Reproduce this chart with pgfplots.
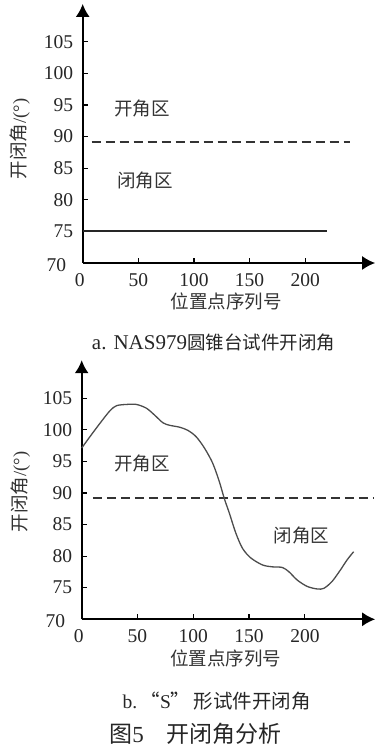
\documentclass[border=0pt]{standalone}
\usepackage{pgfplots}
\pgfplotsset{compat=1.18}
\usepackage{fontspec}
\setmainfont{Liberation Serif}
\newfontfamily\cjk{Noto Sans CJK SC}
\usetikzlibrary{arrows.meta}

\tikzset{zone/.style={font=\cjk\fontsize{18.5}{20}\selectfont, text=black!80}}
\pgfplotsset{
 myaxis/.style={
  scale only axis, anchor=south west,
  xmin=0, xmax=263, ymin=70, ymax=111,
  axis x line=bottom, axis y line=left,
  axis line style={line width=1.8pt, -{Latex[length=13pt,width=14pt]}},
  xtick={50,100,150,200}, ytick={75,80,...,105},
  extra x ticks={0}, extra y ticks={70},
  extra x tick style={xticklabel style={xshift=-3pt}, major tick length=0pt},
  extra y tick style={yticklabel style={xshift=-7pt,yshift=-2pt}, major tick length=0pt},
  tick align=inside, major tick length=5pt, tick style={line width=1.2pt, black},
  tick label style={font=\fontsize{19.5}{20}\selectfont, text=black!85},
  /pgf/number format/assume math mode=true,
  xticklabel style={inner sep=0pt, anchor=north, yshift=-10pt},
  yticklabel style={inner sep=0pt, anchor=east, xshift=-9.4pt},
  label style={font=\fontsize{18.5}{20}\selectfont, text=black!80},
  ylabel={{\cjk 开闭角}/(°)},
  xlabel={\cjk 位置点序列号},
  clip=false,
 },
}

\begin{document}
\begin{tikzpicture}
\path[use as bounding box] (0,0) rectangle (376pt,753pt);

% ---------- a ----------
\begin{axis}[myaxis, at={(82.7pt,490pt)}, width=292.5pt, height=259.1pt,
  ylabel style={at={(axis description cs:-0.214,0.479)}, anchor=center},
  xlabel style={at={(axis description cs:0.491,-0.149)}, anchor=center}]
\addplot[line width=1.7pt, black!80, dash pattern=on 9pt off 5pt] coordinates {(8,89.2) (240,89.2)};
\addplot[line width=2pt, black!85] coordinates {(0,75) (220,75)};
\node[zone] at (axis cs:53.2,94.5) {开角区};
\node[zone] at (axis cs:55.9,83.1) {闭角区};
\end{axis}
\node[font=\fontsize{21}{22}\selectfont, text=black!85] at (213.5pt,410pt) {a. NAS979{\cjk\fontsize{18.5}{20}\selectfont 圆锥台试件开闭角}};

% ---------- b ----------
\begin{axis}[myaxis, at={(81.7pt,133.7pt)}, width=293.5pt, height=259.1pt,
  ylabel style={at={(axis description cs:-0.209,0.492)}, anchor=center},
  xlabel style={at={(axis description cs:0.4915,-0.1505)}, anchor=center}]
\addplot[line width=1.7pt, black!80, dash pattern=on 9pt off 5pt] coordinates {(10,89.2) (262,89.2)};
\addplot[line width=1.3pt, black!70, smooth, tension=0.5] coordinates {
(0,97.1) (7.4,98.9) (16.3,101.0) (25.3,103.0) (31.2,103.8) (40.1,104.0)
(49.0,104.0) (58.0,103.4) (65.4,102.3) (72.8,101.1) (78.8,100.7) (87.7,100.4)
(95.1,99.9) (102.5,98.9) (110.0,97.1) (117.4,94.7) (123.3,91.8) (127.8,89.1)
(132.3,86.8) (138.2,83.6) (144.2,81.2) (151.6,79.7) (162.0,78.6) (170.9,78.3)
(179.8,78.2) (185.8,77.5) (193.2,76.2) (202.1,75.2) (211.0,74.8) (217.0,74.9)
(224.4,76.0) (231.8,77.8) (237.8,79.4) (243.7,80.7)};
\node[zone] at (axis cs:54.2,94.7) {开角区};
\node[zone] at (axis cs:196.9,83.3) {闭角区};
\end{axis}
\node[font=\fontsize{19.5}{21}\selectfont, text=black!85] at (216.7pt,52pt) {b.\,{\cjk “}S{\cjk ”\,形试件开闭角}};
\node[font=\fontsize{23}{25}\selectfont, text=black!85] at (195.7pt,19pt) {{\cjk 图}5\quad{\cjk 开闭角分析}};
\end{tikzpicture}
\end{document}
